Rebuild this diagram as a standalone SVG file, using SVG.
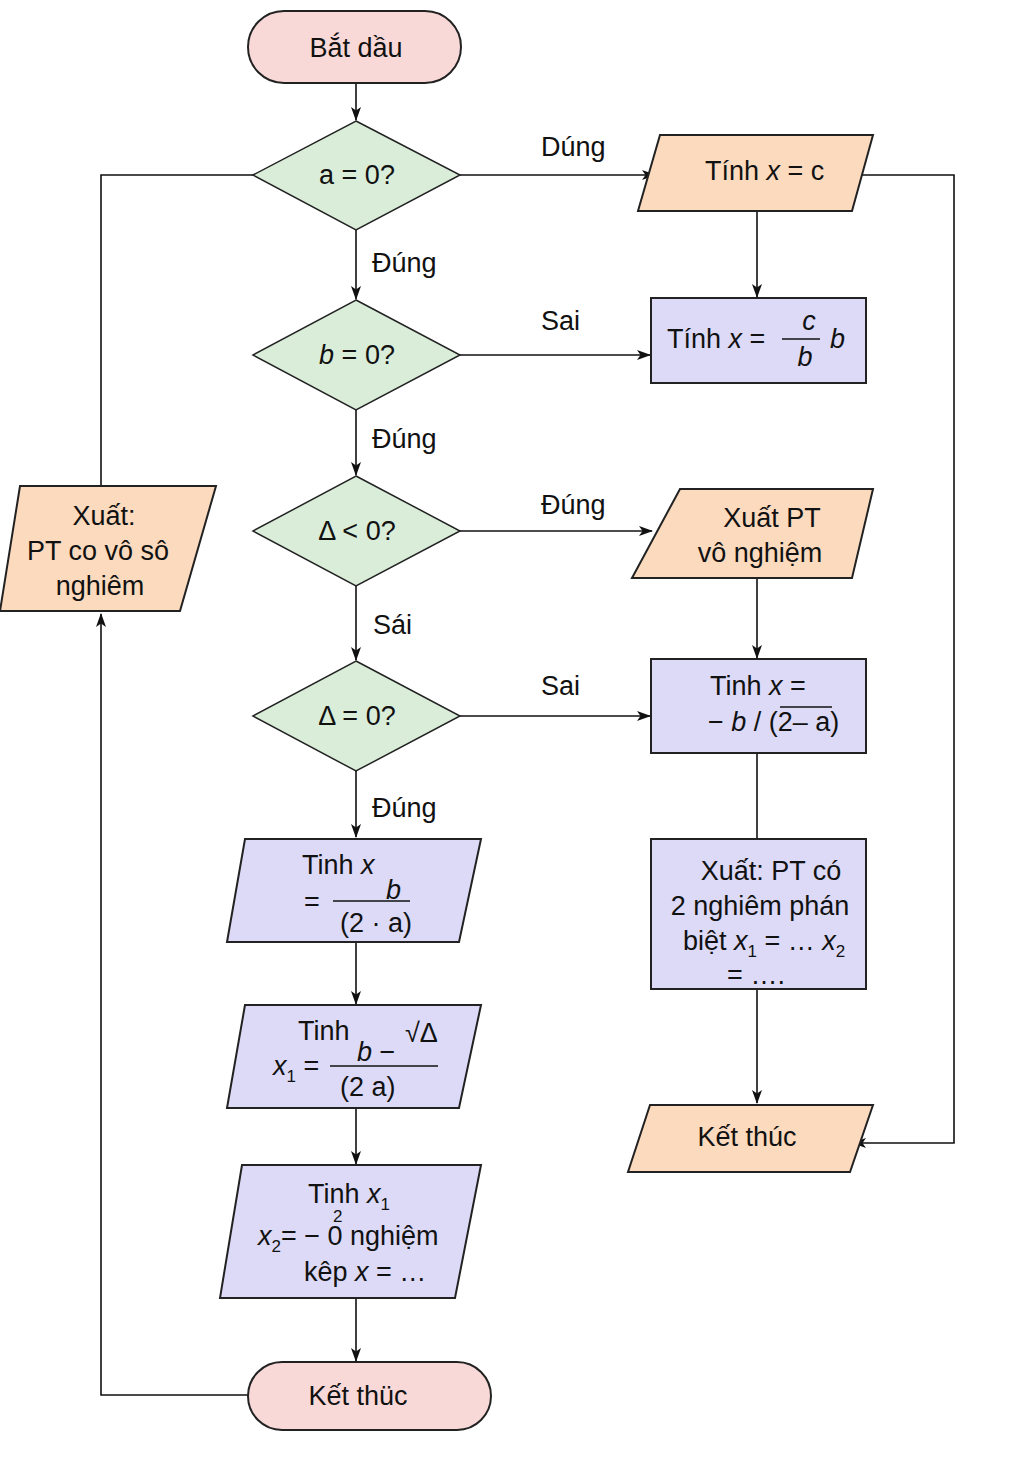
<svg xmlns="http://www.w3.org/2000/svg" width="1024" height="1457" viewBox="0 0 1024 1457">
<defs>
<marker id="arr" viewBox="0 0 14 12" refX="13" refY="6" markerWidth="14" markerHeight="12" markerUnits="userSpaceOnUse" orient="auto">
<path d="M0,1 L14,6 L0,11 L3.5,6 Z" fill="#111"/>
</marker>
<style>
.t{font-family:"Liberation Sans",Arial,sans-serif;font-size:27px;fill:#111}
.c{text-anchor:middle}
.i{font-style:italic}
.s{font-size:17px}
.term{fill:#f9d9d8;stroke:#222;stroke-width:2}
.dec{fill:#d9edd9;stroke:#222;stroke-width:1.5}
.io{fill:#fbdabe;stroke:#222;stroke-width:2}
.pr{fill:#dcdaf7;stroke:#222;stroke-width:2}
.ln{fill:none;stroke:#111;stroke-width:1.6}
.fl{stroke:#111;stroke-width:1.6}
</style>
</defs>
<rect width="1024" height="1457" fill="#fff"/>

<g id="connectors">
<line class="ln" x1="356" y1="83" x2="356" y2="120" marker-end="url(#arr)"/>
<line class="ln" x1="356" y1="230" x2="356" y2="299" marker-end="url(#arr)"/>
<line class="ln" x1="356" y1="410" x2="356" y2="475" marker-end="url(#arr)"/>
<line class="ln" x1="356" y1="586" x2="356" y2="660" marker-end="url(#arr)"/>
<line class="ln" x1="356" y1="771" x2="356" y2="837" marker-end="url(#arr)"/>
<line class="ln" x1="356" y1="942" x2="356" y2="1004" marker-end="url(#arr)"/>
<line class="ln" x1="356" y1="1108" x2="356" y2="1164" marker-end="url(#arr)"/>
<line class="ln" x1="356" y1="1298" x2="356" y2="1361" marker-end="url(#arr)"/>
<line class="ln" x1="460" y1="175" x2="655" y2="175" marker-end="url(#arr)"/>
<line class="ln" x1="757" y1="211" x2="757" y2="297" marker-end="url(#arr)"/>
<line class="ln" x1="460" y1="355" x2="650" y2="355" marker-end="url(#arr)"/>
<polyline class="ln" points="856,175 954,175 954,1143 853,1143" marker-end="url(#arr)"/>
<line class="ln" x1="460" y1="531" x2="652" y2="531" marker-end="url(#arr)"/>
<line class="ln" x1="757" y1="578" x2="757" y2="658" marker-end="url(#arr)"/>
<line class="ln" x1="460" y1="716" x2="650" y2="716" marker-end="url(#arr)"/>
<line class="ln" x1="757" y1="753" x2="757" y2="839"/>
<line class="ln" x1="757" y1="989" x2="757" y2="1103" marker-end="url(#arr)"/>
<polyline class="ln" points="248,1395 101,1395 101,614" marker-end="url(#arr)"/>
<polyline class="ln" points="101,486 101,175 253,175"/>
<text class="t" x="541" y="156">Dúng</text>
<text class="t" x="372" y="272">Đúng</text>
<text class="t" x="541" y="330">Sai</text>
<text class="t" x="372" y="448">Đúng</text>
<text class="t" x="541" y="514">Đúng</text>
<text class="t" x="373" y="634">Sái</text>
<text class="t" x="541" y="695">Sai</text>
<text class="t" x="372" y="817">Đúng</text>
</g>

<g id="start">
<rect class="term" x="248" y="11" width="213" height="72" rx="36"/>
<text class="t c" x="356" y="57">Bắt dầu</text>
</g>

<g id="dec-a">
<polygon class="dec" points="356,121 460,175 356,230 253,175"/>
<text class="t c" x="357" y="184">a = 0?</text>
</g>

<g id="dec-b">
<polygon class="dec" points="356,300 460,355 356,410 253,355"/>
<text class="t c" x="357" y="364"><tspan class="i">b</tspan> = 0?</text>
</g>

<g id="dec-d1">
<polygon class="dec" points="356,476 460,531 356,586 253,531"/>
<text class="t c" x="357" y="540">Δ &lt; 0?</text>
</g>

<g id="dec-d2">
<polygon class="dec" points="356,661 460,716 356,771 253,716"/>
<text class="t c" x="357" y="725">Δ = 0?</text>
</g>

<g id="calc-c">
<polygon class="io" points="660,135 873,135 852,211 638,211"/>
<text class="t" x="705" y="180">Tính <tspan class="i">x</tspan> = c</text>
</g>

<g id="calc-cb">
<rect class="pr" x="651" y="298" width="215" height="85"/>
<text class="t" x="667" y="348">Tính <tspan class="i">x</tspan> =</text>
<line class="fl" x1="782" y1="339" x2="820" y2="339"/>
<text class="t c i" x="809" y="330">c</text>
<text class="t c i" x="805" y="366">b</text>
<text class="t i" x="830" y="348">b</text>
</g>

<g id="out-none">
<polygon class="io" points="680,489 873,489 852,578 632,578"/>
<text class="t c" x="772" y="527">Xuất PT</text>
<text class="t c" x="760" y="562">vô nghiệm</text>
</g>

<g id="calc-x0">
<rect class="pr" x="651" y="659" width="215" height="94"/>
<text class="t" x="710" y="695">Tinh  <tspan class="i">x</tspan> =</text>
<text class="t" x="708" y="731">− <tspan class="i">b</tspan> / (2– a)</text>
<line class="fl" x1="780" y1="707" x2="832" y2="707"/>
</g>

<g id="out-two">
<rect class="pr" x="651" y="839" width="215" height="150"/>
<text class="t c" x="771" y="880">Xuất: PT có</text>
<text class="t c" x="760" y="915">2 nghiêm phán</text>
<text class="t" x="683" y="950">biệt <tspan class="i">x</tspan><tspan class="s" dy="7">1</tspan><tspan dy="-7"> = … </tspan><tspan class="i">x</tspan><tspan class="s" dy="7">2</tspan></text>
<text class="t c" x="756" y="984">= ….</text>
</g>

<g id="end-right">
<polygon class="io" points="650,1105 873,1105 850,1172 628,1172"/>
<text class="t c" x="747" y="1146">Kết thúc</text>
</g>

<g id="calc-x">
<polygon class="pr" points="245,839 481,839 459,942 227,942"/>
<text class="t" x="302" y="874">Tinh  <tspan class="i">x</tspan></text>
<text class="t" x="304" y="911">=</text>
<line class="fl" x1="333" y1="901" x2="410" y2="901"/>
<text class="t i" x="386" y="899">b</text>
<text class="t" x="340" y="932">(2 · a)</text>
</g>

<g id="calc-x1">
<polygon class="pr" points="245,1005 481,1005 459,1108 227,1108"/>
<text class="t" x="298" y="1040">Tinh</text>
<text class="t" x="273" y="1075"><tspan class="i">x</tspan><tspan class="s" dy="7">1</tspan><tspan dy="-7"> =</tspan></text>
<line class="fl" x1="330" y1="1066" x2="438" y2="1066"/>
<text class="t" x="357" y="1061"><tspan class="i">b</tspan> −</text>
<text class="t" x="405" y="1042">√Δ</text>
<text class="t" x="340" y="1096">(2   a)</text>
</g>

<g id="calc-x12">
<polygon class="pr" points="242,1165 481,1165 455,1298 220,1298"/>
<text class="t" x="308" y="1203">Tinh  <tspan class="i">x</tspan><tspan class="s" dy="7">1</tspan></text>
<text class="t" x="258" y="1245"><tspan class="i">x</tspan><tspan class="s" dy="7">2</tspan><tspan dy="-7">= − 0 nghiệm</tspan></text>
<text class="t" x="304" y="1281">kêp <tspan class="i">x</tspan> = …</text>
<text class="t s" x="333" y="1222">2</text>
</g>

<g id="end-left">
<rect class="term" x="248" y="1362" width="243" height="68" rx="34"/>
<text class="t c" x="358" y="1405">Kết thüc</text>
</g>

<g id="out-inf">
<polygon class="io" points="20,486 216,486 180,611 0,611"/>
<text class="t c" x="104" y="525">Xuất:</text>
<text class="t c" x="98" y="560">PT co vô sô</text>
<text class="t c" x="100" y="595">nghiêm</text>
</g>
</svg>
